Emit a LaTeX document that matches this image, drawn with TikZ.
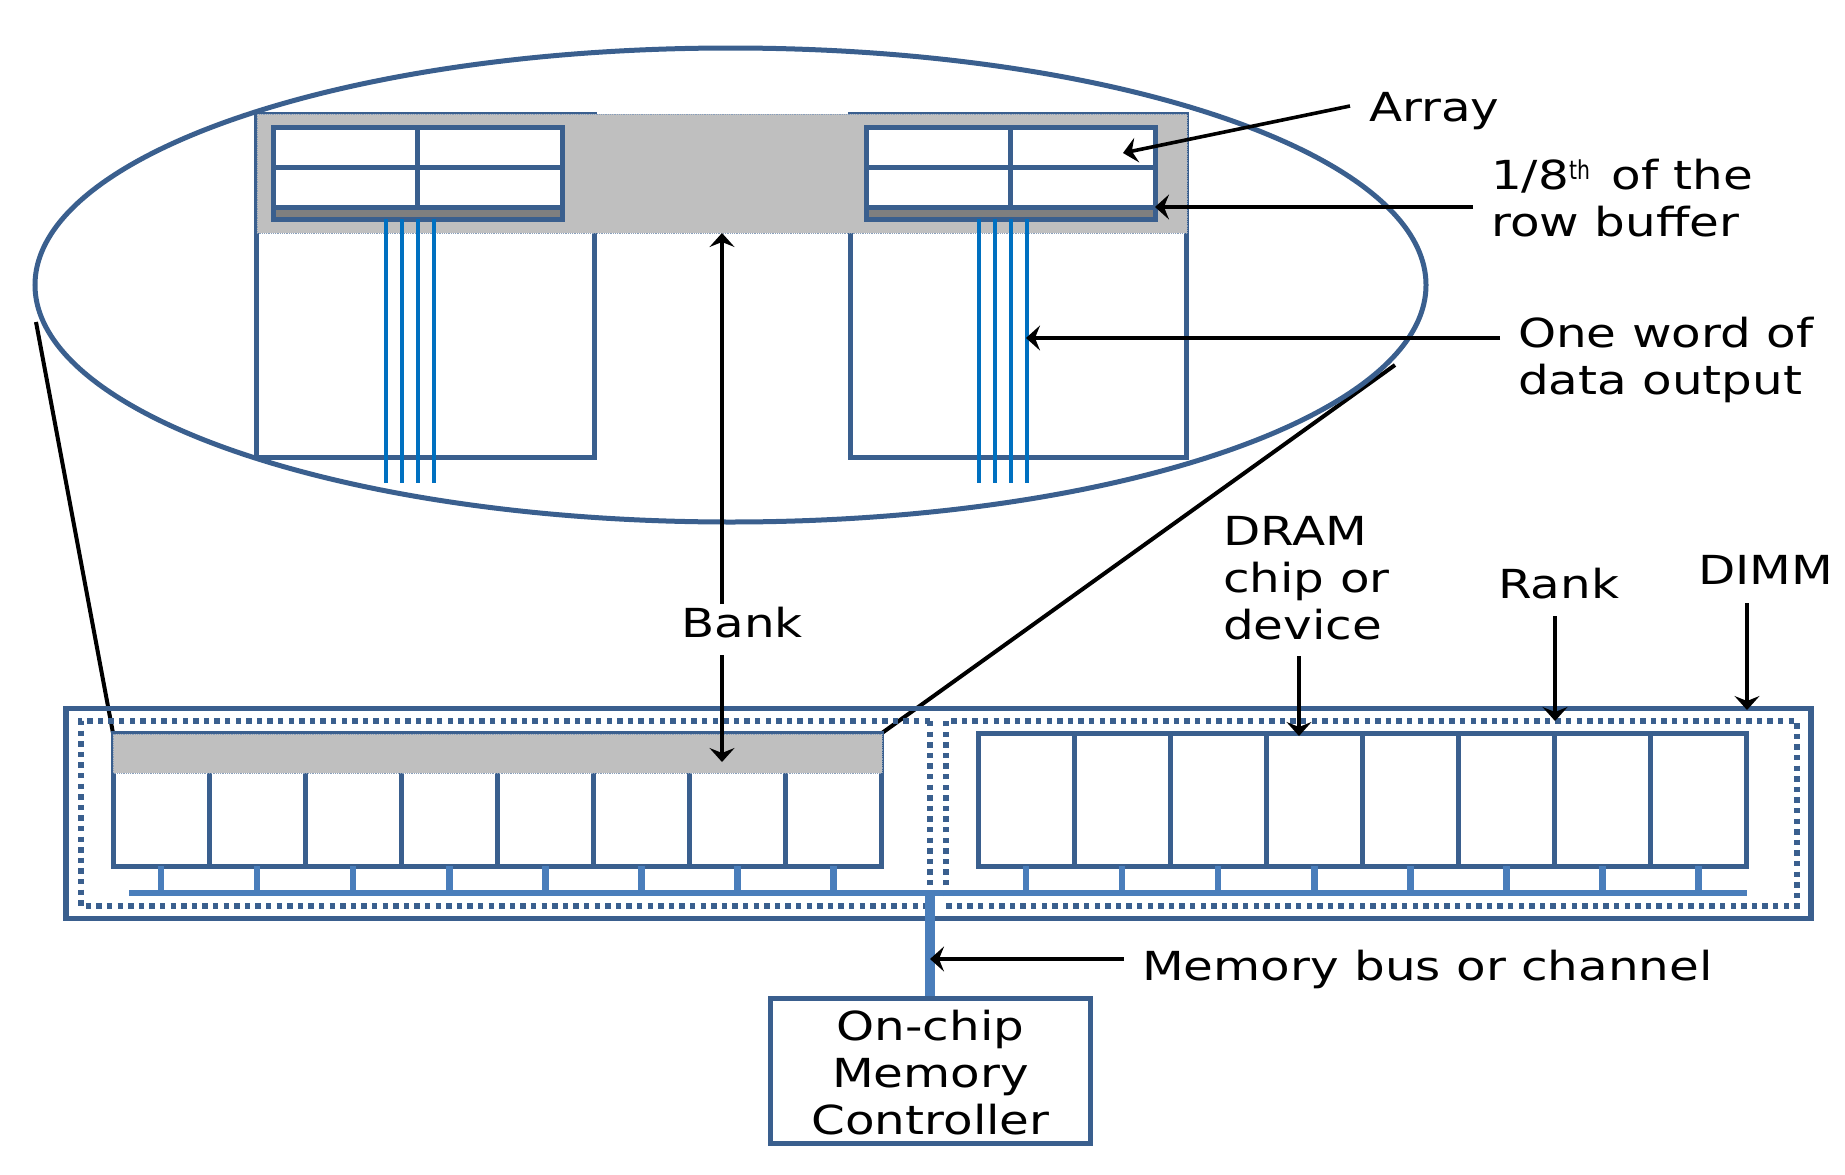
\documentclass[tikz,border=0pt]{standalone}
\usepackage{fontspec}
\setmainfont[FakeStretch=1.21]{DejaVu Sans}
\usetikzlibrary{arrows.meta}
\definecolor{navy}{HTML}{3A5F8E}
\definecolor{busblue}{HTML}{4A7EBB}
\definecolor{wire}{HTML}{0070C0}
\definecolor{shade}{HTML}{BFBFBF}
\definecolor{rowbuf}{HTML}{7F7F7F}
\tikzset{
  x=1pt,y=-1pt,
  frame/.style={draw=navy,line width=5pt},
  cell/.style={draw=navy,line width=5pt,fill=white},
  highlight/.style={fill=shade},
  hledge/.style={draw=navy!60,line width=0.8pt,densely dotted},
  dotbox/.style={draw=navy,line width=5.4pt,dash pattern=on 5.4pt off 5.2pt},
  stub/.style={draw=busblue,line width=6.5pt},
  busline/.style={draw=busblue,line width=5.5pt},
  wireline/.style={draw=wire,line width=4pt},
  callout/.style={draw=black,line width=3.6pt,-{Stealth[length=14pt,width=25pt,inset=5pt]}},
  zoomline/.style={draw=black,line width=4pt},
  lbl/.style={font=\fontsize{40}{47}\selectfont,align=left,inner sep=0pt,text=black,anchor=west},
}
\begin{document}
\begin{tikzpicture}
\useasboundingbox (0,0) rectangle (1845,1175);
% zoom guide lines
\draw[zoomline] (113,733) coordinate (gl) -- (36,322) coordinate (el);
\draw[zoomline] (882,733) coordinate (gr) -- (1395,365) coordinate (er);
% ellipse
\draw[draw=navy,line width=5pt] (730.5,285) ellipse [x radius=695.5, y radius=237];
% banks
\draw[frame] (256.5,114) rectangle (594,457);
\draw[frame] (850,114) rectangle (1186,457);
\fill[highlight] (257,114) rectangle (1187,233);
\draw[hledge] (257,114) rectangle (1187,233);
% arrays
\foreach \ax in {273,866}{
  \draw[cell] (\ax,127) rectangle +(289,92);
  \fill[rowbuf] (\ax,208) rectangle +(289,11);
  \draw[frame] (\ax,127) rectangle +(289,92);
  \draw[frame] (\ax,167) -- +(289,0);
  \draw[frame] (\ax,207) -- +(289,0);
  \draw[frame] (\ax+144.5,127) -- +(0,80);
  \foreach \w in {113,129,145,161}{
    \draw[wireline] (\ax+\w,219) -- +(0,264);
  }
}
% DIMM and rank outlines
\draw[draw=navy,line width=5.3pt] (66,708.5) rectangle (1811,918.5);
\draw[dotbox] (930,721) -- (81,721) -- (81,906) -- (930,906);
\draw[dotbox] (930,721) -- (930,893);
\draw[dotbox] (946,896) -- (946,721) -- (1797,721) -- (1797,906) -- (946,906);
% chips
\foreach \i in {0,...,7}{
  \draw[frame] ({113+96.1*\i},733) rectangle +(96.1,133);
  \draw[frame] ({978+96.1*\i},733) rectangle +(96.1,133);
  \draw[stub] ({161+96.1*\i},866) -- +(0,27);
  \draw[stub] ({1026+96.1*\i},866) -- +(0,27);
}
\fill[highlight] (113,734) rectangle (882,773);
\draw[hledge] (113,734) rectangle (882,773);
% bus
\draw[busline] (129,893) -- (1747,893);
\draw[draw=busblue,line width=10.7pt] (930,893) -- (930,998);
% controller
\node[draw=navy,line width=5pt,fill=white,minimum width=320pt,minimum height=145pt,inner sep=0pt] (ctrl) at (930.5,1071) {};
\node[font=\fontsize{40}{47}\selectfont,align=center,inner sep=0pt] (ctrltext) at (930.5,1072.5) {On-chip\\Memory\\Controller};
% labels
\node[lbl] (array) at (1369,111.5) {Array};
\node[lbl] (rowbuf) at (1491,198) {1/8\raisebox{10pt}{\scalebox{.65}[1]{\fontsize{26}{26}\selectfont th}}\hspace{6pt} of the\\row buffer};
\node[lbl] (word) at (1518,359.5) {One word of\\data output};
\node[lbl] (bank) at (681,623) {Bank};
\node[lbl] (chip) at (1223,578) {DRAM\\chip or\\device};
\node[lbl] (rank) at (1498,584) {Rank};
\node[lbl] (dimm) at (1698,570) {DIMM};
\node[lbl] (bus) at (1142,969.5) {Memory bus or channel};
% callouts
\coordinate (arrayT) at (1123,153);
\coordinate (rowT) at (1155,207);
\coordinate (wordT) at (1026,338);
\coordinate (bankU) at (722,233);
\coordinate (bankD) at (722,762);
\coordinate (chipT) at (1299,736);
\coordinate (rankT) at (1555,721);
\coordinate (dimmT) at (1747,710);
\coordinate (busT) at (930,959);
\draw[callout] (1350,106) -- (arrayT);
\draw[callout] (1473,207) -- (rowT);
\draw[callout] (1500,338) -- (wordT);
\draw[callout] (722,604) -- (bankU);
\draw[callout] (722,655) -- (bankD);
\draw[callout] (1299,656) -- (chipT);
\draw[callout] (1555,616) -- (rankT);
\draw[callout] (1747,603) -- (dimmT);
\draw[callout] (1124,959) -- (busT);
\end{tikzpicture}
\end{document}
